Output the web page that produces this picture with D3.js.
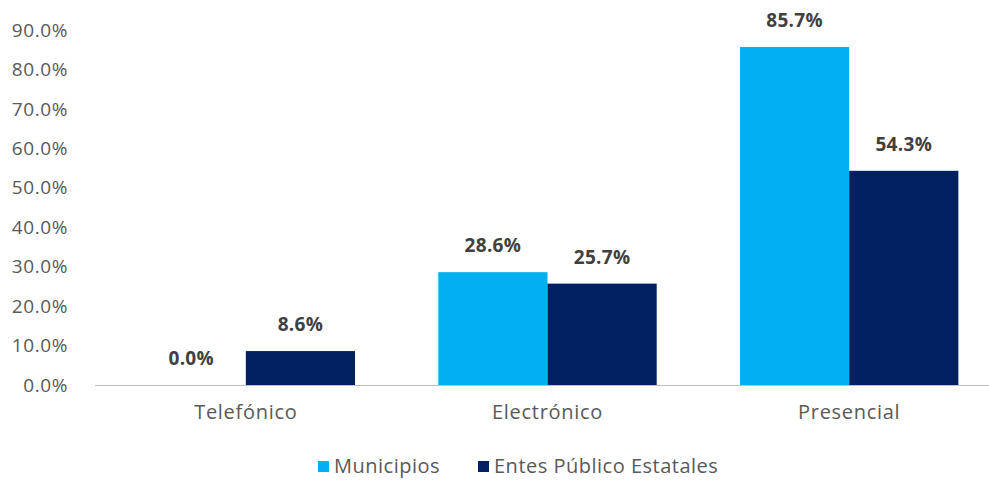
<!DOCTYPE html>
<html>
<head>
<meta charset="utf-8">
<script src="https://cdn.jsdelivr.net/npm/d3@7"></script>
<style>
  html, body { margin: 0; padding: 0; background: #fff; }
</style>
</head>
<body>
<div id="chart"></div>
<script>
const categories = ["Telefónico", "Electrónico", "Presencial"];
const seriesNames = ["Municipios", "Entes Público Estatales"];
const municipios = [0.0, 28.6, 85.7];
const entes = [8.6, 25.7, 54.3];
const yTicks = [0, 10, 20, 30, 40, 50, 60, 70, 80, 90];
const colors = ["#00b0f0", "#002060"];

const width = 989;
const height = 480;
const font = "'Open Sans', 'Noto Sans', sans-serif";

const svg = d3.select("#chart")
  .append("svg")
  .attr("width", width)
  .attr("height", height);

const x = d3.scaleBand()
  .domain(categories)
  .range([95, 1000])
  .paddingInner(0.276)
  .paddingOuter(0.138);

const xInner = d3.scaleBand()
  .domain(seriesNames)
  .range([0, x.bandwidth()]);

const y = d3.scaleLinear()
  .domain([0, 90])
  .range([385, 30]);

const color = d3.scaleOrdinal().domain(seriesNames).range(colors);

// y labels
svg.append("g")
  .selectAll("text")
  .data(yTicks)
  .enter()
  .append("text")
  .attr("x", 68)
  .attr("y", d => y(d))
  .attr("dy", "0.35em")
  .attr("text-anchor", "end")
  .style("font-family", font)
  .style("font-size", "19px")
  .style("letter-spacing", "0.6px")
  .style("fill", "#595959")
  .text(d => d.toFixed(1) + "%");

const rows = categories.map((c, i) => ({
  cat: c,
  values: [
    { s: seriesNames[0], v: municipios[i] },
    { s: seriesNames[1], v: entes[i] }
  ]
}));

const groups = svg.append("g")
  .selectAll("g")
  .data(rows)
  .enter()
  .append("g")
  .attr("transform", d => `translate(${x(d.cat)},0)`);

groups.selectAll("rect")
  .data(d => d.values)
  .enter()
  .append("rect")
  .attr("x", d => xInner(d.s))
  .attr("y", d => y(d.v))
  .attr("width", xInner.bandwidth())
  .attr("height", d => y(0) - y(d.v))
  .attr("fill", d => color(d.s));

groups.selectAll("text")
  .data(d => d.values)
  .enter()
  .append("text")
  .attr("x", d => xInner(d.s) + xInner.bandwidth() / 2)
  .attr("y", d => y(d.v) - 20)
  .attr("text-anchor", "middle")
  .style("font-family", font)
  .style("font-size", "19px")
  .style("font-weight", "bold")
  .style("letter-spacing", "0.3px")
  .style("fill", "#404040")
  .text(d => d.v.toFixed(1) + "%");

// axis line
svg.append("line")
  .attr("x1", 95)
  .attr("x2", width)
  .attr("y1", y(0) + 0.5)
  .attr("y2", y(0) + 0.5)
  .attr("stroke", "#bfbfbf")
  .attr("stroke-width", 1);

// category labels
svg.append("g")
  .selectAll("text")
  .data(categories)
  .enter()
  .append("text")
  .attr("x", d => x(d) + x.bandwidth() / 2)
  .attr("y", 419)
  .attr("text-anchor", "middle")
  .style("font-family", font)
  .style("font-size", "20px")
  .style("letter-spacing", "0.7px")
  .style("fill", "#595959")
  .text(d => d);

// legend
const legendX = [318, 478];
const legend = svg.append("g")
  .selectAll("g")
  .data(seriesNames)
  .enter()
  .append("g")
  .attr("transform", (d, i) => `translate(${legendX[i]},461)`);

legend.append("rect")
  .attr("width", 11)
  .attr("height", 11)
  .attr("fill", d => color(d));

legend.append("text")
  .attr("x", 16)
  .attr("y", 12)
  .style("font-family", font)
  .style("font-size", "20px")
  .style("letter-spacing", "0.5px")
  .style("fill", "#595959")
  .text(d => d);
</script>
</body>
</html>
